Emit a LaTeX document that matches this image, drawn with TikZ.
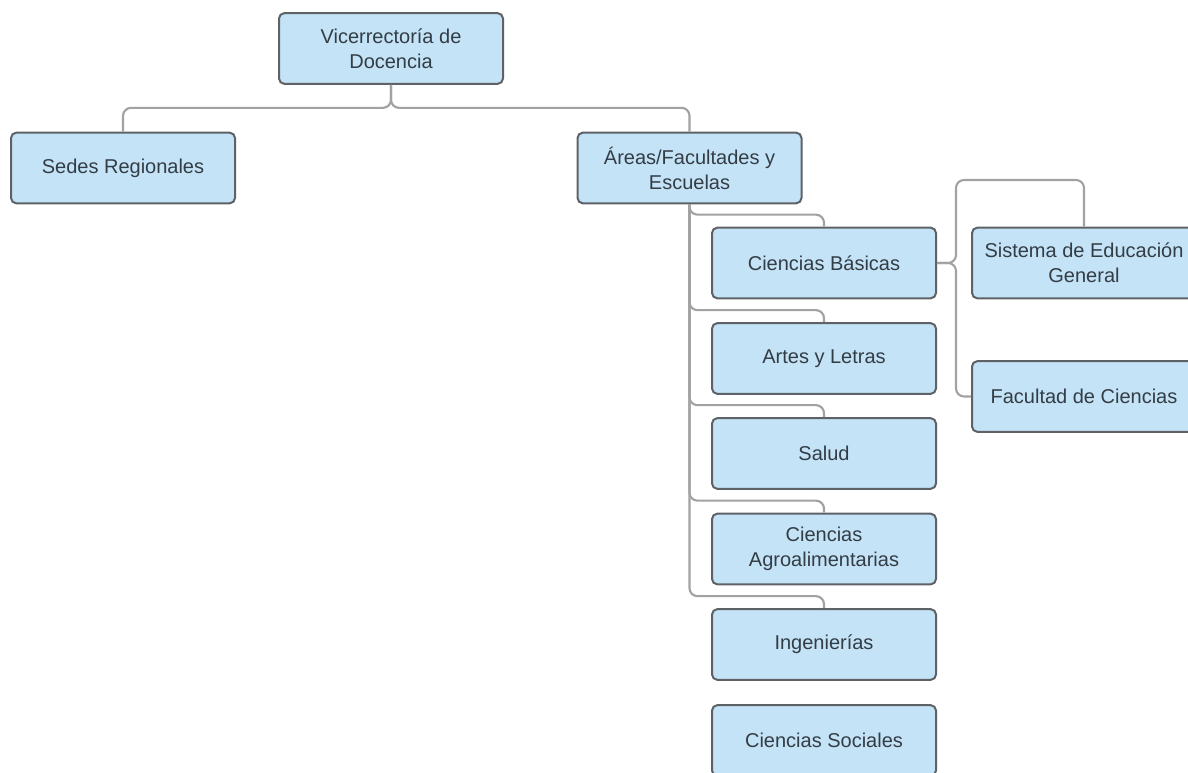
\documentclass[tikz,border=0pt]{standalone}
\usepackage{fontspec}
\setmainfont{Liberation Sans}
\usetikzlibrary{calc}
\definecolor{boxfill}{HTML}{C4E3F6}
\definecolor{boxline}{HTML}{5E6266}
\definecolor{linkline}{HTML}{A2A2A2}
\definecolor{txt}{HTML}{333D46}
\begin{document}
\begin{tikzpicture}[x=0.75pt,y=-0.75pt,
  unit/.style={rectangle, draw=boxline, fill=boxfill, line width=1.5pt,
    rounded corners=4pt, minimum width=168pt, minimum height=53pt,
    inner sep=2pt, align=center, text=txt,
    font=\fontsize{15}{18.75}\selectfont},
  link/.style={draw=linkline, line width=1.6pt, rounded corners=6pt}]
\useasboundingbox (0,0) rectangle (1188,773);
\clip (0,0) rectangle (1188,773);

% boxes
\node[unit] (vic)   at (391,48.5)   {Vicerrectoría de\\Docencia};
\node[unit] (sedes) at (123,168)    {Sedes Regionales};
\node[unit] (areas) at (689.5,168)  {Áreas/Facultades y\\Escuelas};
\node[unit] (cb)    at (824,263)    {Ciencias Básicas};
\node[unit] (al)    at (824,358.5)  {Artes y Letras};
\node[unit] (sal)   at (824,453.5)  {Salud};
\node[unit] (agro)  at (824,549)    {Ciencias\\Agroalimentarias};
\node[unit] (ing)   at (824,644.5)  {Ingenierías};
\node[unit] (cs)    at (824,740.5)  {Ciencias Sociales};
\node[unit] (seg)   at (1084,263)   {Sistema de Educación\\General};
\node[unit] (fac)   at (1084,396.5) {Facultad de Ciencias};

% top level
\draw[link] (vic.south) -- ($(vic.south)+(0,23)$) -| (sedes.north);
\draw[link] (vic.south) -- ($(vic.south)+(0,23)$) -| (areas.north);

% areas to its units
\foreach \n in {cb,al,sal,agro,ing}{
  \draw[link] (areas.south) -- ($(areas.south |- \n.north)+(0,-12)$)
    -- ($(\n.north)+(0,-12)$) -- (\n.north);
}

% ciencias basicas to its units
\coordinate (cbj) at ($(cb.east)+(19,0)$);
\draw[link] (cb.east) -- (cbj) -- (cbj |- 0,180) -| (seg.north);
\draw[link] (cb.east) -- (cbj) |- (fac.west);
\end{tikzpicture}
\end{document}
